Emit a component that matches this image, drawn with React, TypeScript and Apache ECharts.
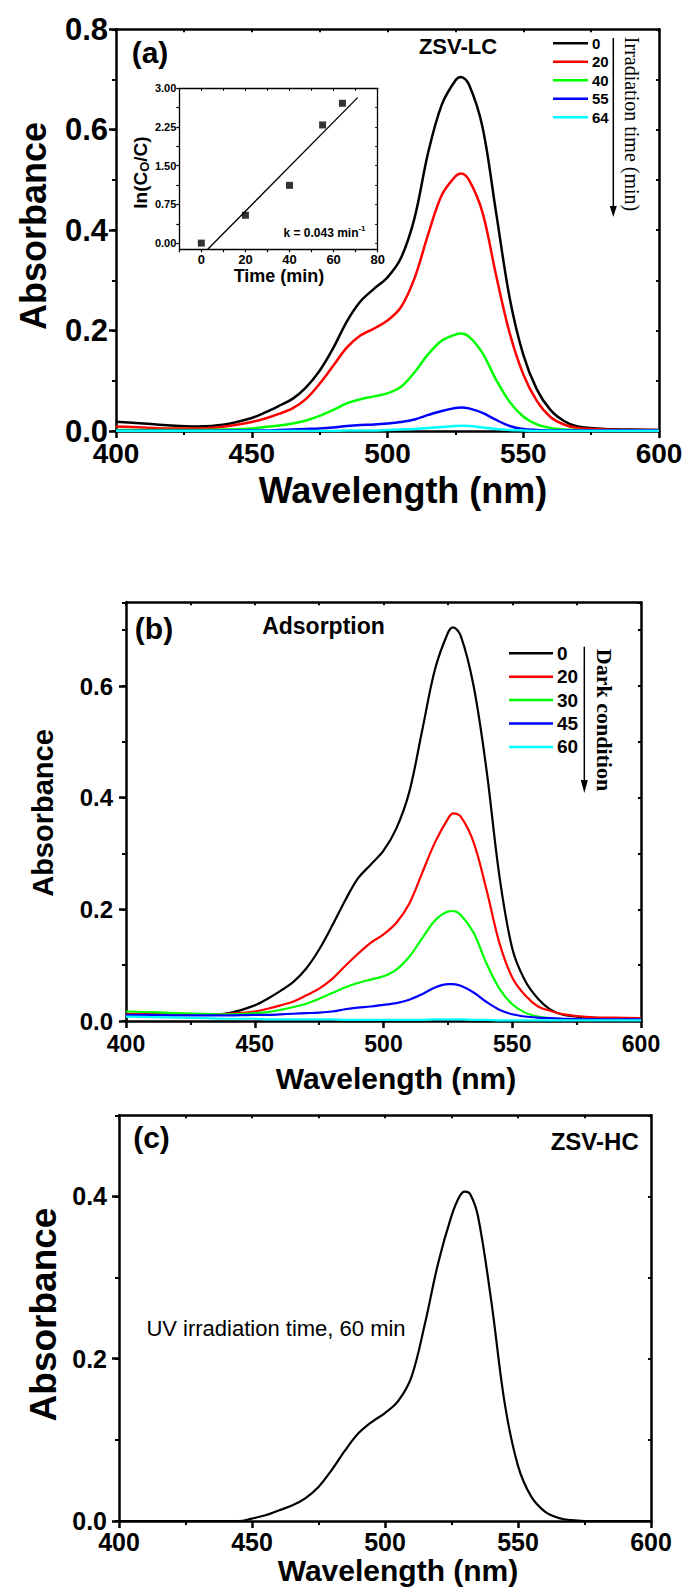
import React, { useEffect, useRef } from 'react';
import * as echarts from 'echarts';

// ---------- data ----------
const WL = [400, 410, 420, 430, 440, 450, 455, 460, 465, 470, 475, 480, 485, 490, 495, 500, 505, 510, 515, 520, 525, 527, 530, 535, 540, 545, 550, 555, 560, 565, 570, 580, 590, 600];

// (a) ZSV-LC, irradiation time (min)
const A_LABELS = ['0', '20', '40', '55', '64'];
const A_T0 = [0.0185, 0.015, 0.011, 0.009, 0.013, 0.026, 0.037, 0.05, 0.064, 0.087, 0.12, 0.165, 0.218, 0.258, 0.283, 0.306, 0.345, 0.425, 0.555, 0.65, 0.698, 0.705, 0.69, 0.605, 0.435, 0.265, 0.152, 0.083, 0.042, 0.02, 0.009, 0.004, 0.003, 0.002];
const A_T20 = [0.009, 0.007, 0.005, 0.005, 0.009, 0.018, 0.025, 0.034, 0.045, 0.064, 0.094, 0.13, 0.166, 0.19, 0.204, 0.22, 0.247, 0.305, 0.392, 0.47, 0.507, 0.513, 0.5, 0.435, 0.31, 0.195, 0.113, 0.06, 0.028, 0.013, 0.006, 0.003, 0.002, 0.002];
const A_T40 = [0.002, 0.002, 0.002, 0.002, 0.003, 0.005, 0.008, 0.011, 0.015, 0.021, 0.03, 0.042, 0.055, 0.063, 0.069, 0.075, 0.088, 0.117, 0.153, 0.18, 0.192, 0.194, 0.188, 0.155, 0.102, 0.058, 0.029, 0.013, 0.006, 0.003, 0.002, 0.001, 0.001, 0.001];
const A_T55 = [0.0005, 0.0005, 0.0005, 0.0005, 0.0008, 0.001, 0.001, 0.002, 0.003, 0.004, 0.005, 0.007, 0.01, 0.012, 0.013, 0.015, 0.018, 0.023, 0.032, 0.04, 0.046, 0.047, 0.045, 0.036, 0.022, 0.01, 0.004, 0.002, 0.001, 0.001, 0.001, 0.001, 0.001, 0.001];
const A_T64 = [0, 0, 0, 0, 0, 0, 0, 0, 0, 0, 0, 0, 0.001, 0.001, 0.001, 0.002, 0.003, 0.004, 0.006, 0.008, 0.01, 0.0105, 0.01, 0.007, 0.004, 0.002, 0.001, 0, 0, 0, 0, 0, 0, 0];

// (b) Adsorption, dark condition (min)
const B_LABELS = ['0', '20', '30', '45', '60'];
const B_T0 = [0.012, 0.012, 0.011, 0.011, 0.014, 0.028, 0.04, 0.054, 0.07, 0.094, 0.128, 0.17, 0.215, 0.255, 0.28, 0.305, 0.345, 0.41, 0.52, 0.63, 0.695, 0.705, 0.69, 0.6, 0.45, 0.26, 0.13, 0.072, 0.04, 0.02, 0.011, 0.006, 0.004, 0.003];
const B_T20 = [0.013, 0.013, 0.012, 0.012, 0.013, 0.017, 0.022, 0.028, 0.035, 0.046, 0.058, 0.075, 0.098, 0.12, 0.14, 0.155, 0.176, 0.21, 0.265, 0.32, 0.362, 0.372, 0.366, 0.32, 0.235, 0.14, 0.078, 0.046, 0.026, 0.018, 0.012, 0.007, 0.006, 0.005];
const B_T30 = [0.017, 0.016, 0.014, 0.013, 0.012, 0.014, 0.016, 0.02, 0.025, 0.031, 0.04, 0.05, 0.06, 0.068, 0.074, 0.08, 0.092, 0.115, 0.148, 0.18, 0.196, 0.197, 0.19, 0.158, 0.103, 0.058, 0.03, 0.015, 0.008, 0.005, 0.003, 0.002, 0.002, 0.002];
const B_T45 = [0.011, 0.011, 0.01, 0.01, 0.01, 0.011, 0.011, 0.012, 0.013, 0.014, 0.015, 0.017, 0.021, 0.024, 0.026, 0.029, 0.032, 0.038, 0.048, 0.06, 0.066, 0.066, 0.063, 0.051, 0.034, 0.02, 0.012, 0.008, 0.006, 0.005, 0.004, 0.003, 0.003, 0.003];
const B_T60 = [0.008, 0.007, 0.006, 0.005, 0.004, 0.004, 0.003, 0.003, 0.003, 0.003, 0.003, 0.003, 0.002, 0.002, 0.002, 0.002, 0.002, 0.002, 0.002, 0.003, 0.003, 0.003, 0.003, 0.002, 0.002, 0.001, 0.001, 0.001, 0.001, 0.001, 0.001, 0.001, 0.001, 0.001];

// (c) ZSV-HC, UV irradiation 60 min
const WL_C = [400, 420, 440, 445, 450, 455, 460, 465, 470, 475, 480, 485, 490, 495, 500, 505, 510, 515, 520, 525, 528, 530, 532, 535, 540, 545, 550, 555, 560, 565, 570, 575, 580, 600];
const C_ABS = [0, 0, 0, 0, 0.003, 0.007, 0.013, 0.019, 0.028, 0.042, 0.063, 0.087, 0.108, 0.122, 0.133, 0.148, 0.178, 0.243, 0.318, 0.376, 0.4, 0.406, 0.403, 0.375, 0.27, 0.145, 0.068, 0.03, 0.012, 0.004, 0.001, 0, 0, 0];

// inset: ln(C0/C) vs time
const INSET_T = [0, 20, 40, 55, 64];
const INSET_LN = [0.0, 0.54, 1.12, 2.29, 2.71];
const FIT_T = [2.9, 70.9];
const FIT_LN = [-0.12, 2.82];
const INSET_Y_TICKS = [0, 0.75, 1.5, 2.25, 3.0];
const INSET_Y_ALLTICKS = [0, 0.375, 0.75, 1.125, 1.5, 1.875, 2.25, 2.625, 3.0];

const COLORS = ['#000000', '#ff0000', '#00ff00', '#0000ff', '#00ffff'];

// ---------- style helpers ----------
const FONT = '"Liberation Sans", Arial, Helvetica, sans-serif';
const SERIF = '"Liberation Serif", "Times New Roman", serif';
const BLK = '#000';

const bottomX = (g: number, fs: number, margin: number, lh: number, lw: number) => ({
  type: 'value', gridIndex: g, position: 'bottom', min: 400, max: 600, interval: 50,
  axisLine: { show: true, onZero: false, lineStyle: { color: BLK, width: lw } },
  axisTick: { show: true, inside: false, length: 7, lineStyle: { color: BLK, width: lw } },
  minorTick: { show: true, splitNumber: 2, length: 4, lineStyle: { color: BLK, width: lw * 0.8 } },
  axisLabel: { show: true, margin, lineHeight: lh, color: BLK, fontFamily: FONT, fontWeight: 'bold', fontSize: fs, showMinLabel: true, showMaxLabel: true, formatter: (v: number) => String(v) },
  splitLine: { show: false }, minorSplitLine: { show: false },
});
const topX = (g: number, lw: number) => ({
  type: 'value', gridIndex: g, position: 'top', min: 400, max: 600, interval: 25,
  axisLine: { show: true, onZero: false, lineStyle: { color: BLK, width: lw } },
  axisTick: { show: true, inside: true, length: 3, lineStyle: { color: BLK, width: lw * 0.8 } },
  axisLabel: { show: false }, splitLine: { show: false },
});
const leftY = (g: number, max: number, fs: number, margin: number, lh: number, lw: number, showMax: boolean) => ({
  type: 'value', gridIndex: g, position: 'left', min: 0, max, interval: 0.2,
  axisLine: { show: true, onZero: false, lineStyle: { color: BLK, width: lw } },
  axisTick: { show: true, inside: false, length: 7, lineStyle: { color: BLK, width: lw } },
  axisLabel: { show: true, margin, lineHeight: lh, color: BLK, fontFamily: FONT, fontWeight: 'bold', fontSize: fs, showMinLabel: true, showMaxLabel: showMax, formatter: (v: number) => v.toFixed(1) },
  splitLine: { show: false },
});
const minorY = (g: number, max: number, lw: number) => ({
  type: 'value', gridIndex: g, position: 'left', min: 0, max, interval: 0.1,
  axisLine: { show: false }, axisTick: { show: true, inside: false, length: 4, lineStyle: { color: BLK, width: lw * 0.8 } },
  axisLabel: { show: false }, splitLine: { show: false },
});
const rightY = (g: number, max: number, lw: number) => ({
  type: 'value', gridIndex: g, position: 'right', min: 0, max, interval: 0.1,
  axisLine: { show: true, onZero: false, lineStyle: { color: BLK, width: lw } },
  axisTick: { show: true, inside: true, length: 3, lineStyle: { color: BLK, width: lw * 0.8 } },
  axisLabel: { show: false }, splitLine: { show: false },
});

const spectrum = (name: string, xs: number[], ys: number[], color: string, xi: number, yi: number, lw: number) => ({
  type: 'line', name, xAxisIndex: xi, yAxisIndex: yi, showSymbol: false, symbol: 'none', smooth: 0.35,
  lineStyle: { color, width: lw }, itemStyle: { color }, z: 3,
  data: xs.map((x, i) => [x, ys[i]]),
});

const txt = (x: number, y: number, text: string, font: string, rotation = 0, align = 'center', lh?: number) => ({
  type: 'text', x, y, rotation, z: 10,
  style: { text, x: 0, y: 0, font, fill: BLK, textAlign: align, textVerticalAlign: 'middle', ...(lh ? { lineHeight: lh } : {}) },
});

const legendItems = (labels: string[], x0: number, x1: number, y0: number, dy: number, fs: number, lw: number) => {
  const els: any[] = [];
  labels.forEach((lab, i) => {
    const y = y0 + i * dy;
    els.push({ type: 'line', z: 10, shape: { x1: x0, y1: y, x2: x1, y2: y }, style: { stroke: COLORS[i], lineWidth: lw } });
    els.push(txt(x1 + 4, y, lab, `bold ${fs}px ${FONT}`, 0, 'left', fs));
  });
  return els;
};

const arrow = (x: number, y0: number, y1: number, head: number, hw: number) => [
  { type: 'line', z: 10, shape: { x1: x, y1: y0, x2: x, y2: y1 - head + 1 }, style: { stroke: BLK, lineWidth: 1.5 } },
  { type: 'polygon', z: 10, shape: { points: [[x - hw, y1 - head], [x + hw, y1 - head], [x, y1]] }, style: { fill: BLK } },
];

export default function App() {
  const ref = useRef<HTMLDivElement>(null);
  useEffect(() => {
    if (!ref.current) return;
    const chart = echarts.init(ref.current, null, { renderer: 'svg' });
    const aSeries = [A_T0, A_T20, A_T40, A_T55, A_T64];
    const bSeries = [B_T0, B_T20, B_T30, B_T45, B_T60];
    const option: any = {
      animation: false,
      backgroundColor: '#ffffff',
      grid: [
        { left: 116, top: 29.3, width: 543, height: 401.7, containLabel: false, outerBoundsMode: 'none' },
        { left: 179.3, top: 88.3, width: 198.4, height: 161, containLabel: false, outerBoundsMode: 'none' },
        { left: 126, top: 602.3, width: 515, height: 418.7, containLabel: false, outerBoundsMode: 'none' },
        { left: 119, top: 1115.3, width: 532, height: 405.7, containLabel: false, outerBoundsMode: 'none' },
      ],
      xAxis: [
        bottomX(0, 28, 11.5, 22, 2.5),
        topX(0, 2.5),
        {
          type: 'value', gridIndex: 1, position: 'bottom', min: -10, max: 80, interval: 10,
          axisLine: { show: true, onZero: false, lineStyle: { color: BLK, width: 1.3 } },
          axisTick: { show: true, inside: false, length: 3, lineStyle: { color: BLK, width: 1.2 } },
          axisLabel: { show: true, margin: 4, lineHeight: 12, color: BLK, fontFamily: FONT, fontWeight: 'bold', fontSize: 13, showMinLabel: true, showMaxLabel: true,
            formatter: (v: number) => (v >= 0 && v % 20 === 0 ? String(v) : '') },
          splitLine: { show: false },
        },
        {
          type: 'value', gridIndex: 1, position: 'top', min: -10, max: 80, interval: 10,
          axisLine: { show: true, onZero: false, lineStyle: { color: BLK, width: 1.3 } },
          axisTick: { show: true, inside: true, length: 2.5, lineStyle: { color: BLK, width: 1 } },
          axisLabel: { show: false }, splitLine: { show: false },
        },
        bottomX(2, 23, 14, 18, 2.5),
        topX(2, 2.5),
        bottomX(3, 25, 11, 20, 2.5),
        topX(3, 2.5),
      ],
      yAxis: [
        leftY(0, 0.8, 31, 8, 22, 2.5, true),
        minorY(0, 0.8, 2.5),
        rightY(0, 0.8, 2.5),
        {
          type: 'value', gridIndex: 1, position: 'left', min: -0.12, max: 3.0,
          axisLine: { show: true, onZero: false, lineStyle: { color: BLK, width: 1.3 } },
          axisTick: { show: true, inside: false, length: 3, customValues: INSET_Y_ALLTICKS, lineStyle: { color: BLK, width: 1.2 } },
          axisLabel: { show: true, margin: 3, lineHeight: 10, color: BLK, fontFamily: FONT, fontWeight: 'bold', fontSize: 11, customValues: INSET_Y_TICKS,
            formatter: (v: number) => v.toFixed(2) },
          splitLine: { show: false },
        },
        {
          type: 'value', gridIndex: 1, position: 'right', min: -0.12, max: 3.0,
          axisLine: { show: true, onZero: false, lineStyle: { color: BLK, width: 1.3 } },
          axisTick: { show: true, inside: true, length: 2.5, customValues: INSET_Y_ALLTICKS, lineStyle: { color: BLK, width: 1 } },
          axisLabel: { show: false }, splitLine: { show: false },
        },
        leftY(2, 0.75, 24, 13, 19, 2.5, false),
        minorY(2, 0.75, 2.5),
        rightY(2, 0.75, 2.5),
        leftY(3, 0.5, 25, 12, 19, 2.5, false),
        minorY(3, 0.5, 2.5),
        rightY(3, 0.5, 2.5),
      ],
      series: [
        ...aSeries.map((ys, i) => spectrum('a-' + A_LABELS[i], WL, ys, COLORS[i], 0, 0, 2.5)),
        {
          type: 'scatter', name: 'inset-points', xAxisIndex: 2, yAxisIndex: 3, symbol: 'rect', symbolSize: 7,
          itemStyle: { color: BLK }, z: 4, data: INSET_T.map((t, i) => [t, INSET_LN[i]]),
        },
        {
          type: 'line', name: 'inset-fit', xAxisIndex: 2, yAxisIndex: 3, showSymbol: false, symbol: 'none',
          lineStyle: { color: BLK, width: 1.3 }, z: 3, data: FIT_T.map((t, i) => [t, FIT_LN[i]]),
        },
        ...bSeries.map((ys, i) => spectrum('b-' + B_LABELS[i], WL, ys, COLORS[i], 4, 5, 2.2)),
        spectrum('c-60', WL_C, C_ABS, BLK, 6, 8, 2.2),
      ],
      graphic: {
        elements: [
          // panel (a)
          txt(150, 52.5, '(a)', `bold 30px ${FONT}`),
          txt(458, 46, 'ZSV-LC', `bold 22px ${FONT}`),
          txt(33, 226, 'Absorbance', `bold 36px ${FONT}`, Math.PI / 2),
          txt(403, 490, 'Wavelength (nm)', `bold 36px ${FONT}`, 0, 'center', 30),
          ...legendItems(A_LABELS, 553, 588, 43.3, 18.5, 15, 2.5),
          ...arrow(613.3, 38, 217, 11, 3.5),
          txt(632, 124, 'Irradiation time (min)', `normal 20px ${SERIF}`, -Math.PI / 2),
          // inset
          txt(279, 276, 'Time (min)', `bold 18px ${FONT}`, 0, 'center', 18),
          {
            type: 'text', x: 140, y: 172.5, rotation: Math.PI / 2, z: 10,
            style: {
              text: '{a|ln(C}{b|O}{a|/C)}', x: 0, y: 0, textAlign: 'center', textVerticalAlign: 'middle',
              font: `bold 19px ${FONT}`, fill: BLK,
              rich: {
                a: { fontSize: 19, fontWeight: 'bold', fontFamily: FONT, fill: BLK, color: BLK, lineHeight: 22 },
                b: { fontSize: 13, fontWeight: 'bold', fontFamily: FONT, fill: BLK, color: BLK, lineHeight: 12, verticalAlign: 'bottom' },
              },
            },
          },
          {
            type: 'text', x: 324.5, y: 232.5, z: 10,
            style: {
              text: '{a|k = 0.043 min}{b|-1}', x: 0, y: 0, textAlign: 'center', textVerticalAlign: 'middle',
              font: `bold 12px ${FONT}`, fill: BLK,
              rich: {
                a: { fontSize: 12, fontWeight: 'bold', fontFamily: FONT, fill: BLK, color: BLK, lineHeight: 16 },
                b: { fontSize: 8, fontWeight: 'bold', fontFamily: FONT, fill: BLK, color: BLK, lineHeight: 9, verticalAlign: 'top' },
              },
            },
          },
          // panel (b)
          txt(154, 628.5, '(b)', `bold 30px ${FONT}`),
          txt(323.5, 626, 'Adsorption', `bold 23px ${FONT}`),
          txt(43, 813, 'Absorbance', `bold 29px ${FONT}`, Math.PI / 2),
          txt(396, 1078, 'Wavelength (nm)', `bold 30px ${FONT}`, 0, 'center', 26),
          ...legendItems(B_LABELS, 509, 553, 653.3, 23.4, 19, 2.5),
          ...arrow(584.3, 646.7, 793, 13, 3.5),
          txt(604, 720, 'Dark condition', `bold 22px ${SERIF}`, -Math.PI / 2),
          // panel (c)
          txt(151.5, 1137.5, '(c)', `bold 30px ${FONT}`),
          txt(594.7, 1141.5, 'ZSV-HC', `bold 24px ${FONT}`),
          txt(276, 1328, 'UV irradiation time, 60 min', `normal 22px ${FONT}`),
          txt(43.5, 1314.5, 'Absorbance', `bold 37px ${FONT}`, Math.PI / 2),
          txt(398, 1570, 'Wavelength (nm)', `bold 30px ${FONT}`, 0, 'center', 24),
        ],
      },
    };
    chart.setOption(option);
    return () => chart.dispose();
  }, []);
  return <div ref={ref} style={{ position: 'absolute', left: 0, top: 0, width: 689, height: 1595 }} />;
}
